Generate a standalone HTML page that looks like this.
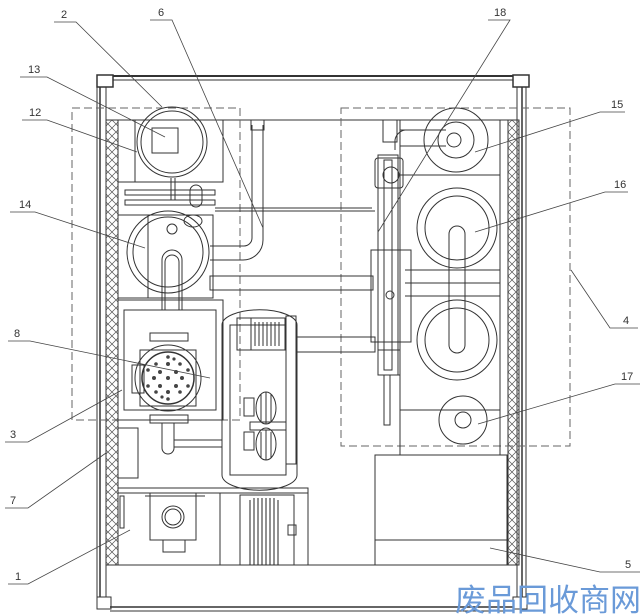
<!DOCTYPE html>
<html><head><meta charset="utf-8"><style>
html,body{margin:0;padding:0;background:#fff;width:640px;height:614px;overflow:hidden}
svg{display:block}
text{font-family:"Liberation Sans",sans-serif;font-size:11px;fill:#333}
</style></head><body>
<svg width="640" height="614" viewBox="0 0 640 614" xmlns="http://www.w3.org/2000/svg">
<defs>
<pattern id="hx" width="8" height="8" patternUnits="userSpaceOnUse">
<path d="M0,0 L8,8 M8,0 L0,8" stroke="#555" stroke-width="0.7"/>
</pattern>
</defs>
<g fill="none" stroke="#333" stroke-width="1">
<!-- frame -->
<line x1="100" y1="76" x2="520" y2="76" stroke-width="2"/>
<line x1="110" y1="80" x2="515" y2="80"/>
<line x1="97" y1="82" x2="97" y2="600"/>
<line x1="100" y1="82" x2="100" y2="600" stroke-width="1.5"/>
<line x1="106" y1="86" x2="106" y2="600"/>
<line x1="517" y1="86" x2="517" y2="600"/>
<line x1="522" y1="82" x2="522" y2="600" stroke-width="1.5"/>
<line x1="526" y1="82" x2="526" y2="600"/>
<rect x="97" y="75" width="16" height="12" fill="#fff" stroke-width="1.5"/>
<rect x="513" y="75" width="16" height="12" fill="#fff" stroke-width="1.5"/>
<rect x="97" y="597" width="14" height="12" fill="#fff"/>
<rect x="513" y="597" width="14" height="12" fill="#fff"/>
<line x1="110" y1="607" x2="514" y2="607" stroke-width="1.5"/>
<line x1="110" y1="611" x2="514" y2="611"/>
<line x1="106" y1="565" x2="517" y2="565"/>
<line x1="118" y1="120" x2="508" y2="120"/>
<!-- insulation -->
<rect x="106" y="120" width="12" height="445" fill="url(#hx)"/>
<rect x="508" y="120" width="11" height="445" fill="url(#hx)"/>
<!-- dashed boxes -->
<rect x="72" y="108" width="168" height="312" stroke-dasharray="8,4" stroke="#666"/>
<rect x="341" y="108" width="229" height="338" stroke-dasharray="8,4" stroke="#666"/>
<!-- left column structure -->
<rect x="118" y="120" width="105" height="62"/>
<rect x="118" y="120" width="17" height="62"/>
<line x1="125" y1="182" x2="215" y2="182"/>
<rect x="125" y="190" width="90" height="5"/>
<rect x="125" y="200" width="90" height="5"/>
<rect x="118" y="215" width="95" height="83"/>
<rect x="118" y="215" width="30" height="83"/>
<circle cx="172" cy="142" r="35"/>
<circle cx="172" cy="142" r="31"/>
<rect x="152" y="128" width="26" height="25"/>
<rect x="190" y="185" width="12" height="22" rx="6"/>
<line x1="171" y1="178" x2="171" y2="200"/>
<line x1="175" y1="178" x2="175" y2="200"/>
<circle cx="168" cy="252" r="41"/>
<circle cx="168" cy="252" r="35"/>
<circle cx="172" cy="229" r="5"/>
<ellipse cx="193" cy="221" rx="9" ry="6"/>
<path d="M162,310 L162,260 A10,10 0 0 1 182,260 L182,310"/>
<path d="M165,310 L165,262 A7,7 0 0 1 179,262 L179,310"/>
<!-- pipe 6 -->
<path d="M252,125 L252,238 A8,8 0 0 1 244,246 L210,246"/>
<path d="M263,125 L263,240 A20,20 0 0 1 243,260 L210,260"/>
<rect x="251" y="120" width="13" height="10"/>
<line x1="215" y1="208" x2="372" y2="208"/>
<line x1="215" y1="211" x2="375" y2="211"/>
<rect x="210" y="276" width="163" height="14"/>
<!-- pump 8 block -->
<rect x="124" y="310" width="92" height="100"/>
<rect x="118" y="300" width="105" height="120"/>
<rect x="150" y="333" width="38" height="8"/>
<rect x="150" y="415" width="38" height="8"/>
<rect x="140" y="350" width="56" height="56"/>
<rect x="132" y="365" width="12" height="28"/>
<circle cx="168" cy="378" r="33"/>
<circle cx="168" cy="378" r="26" stroke-width="1.5"/>
<g fill="#444" stroke="none">
<circle cx="168" cy="378" r="2"/><circle cx="160" cy="372" r="2"/><circle cx="176" cy="372" r="2"/><circle cx="160" cy="386" r="2"/><circle cx="176" cy="386" r="2"/><circle cx="168" cy="364" r="2"/><circle cx="168" cy="392" r="2"/><circle cx="154" cy="378" r="2"/><circle cx="182" cy="378" r="2"/><circle cx="156" cy="364" r="1.8"/><circle cx="180" cy="364" r="1.8"/><circle cx="156" cy="392" r="1.8"/><circle cx="180" cy="392" r="1.8"/><circle cx="148" cy="370" r="1.8"/><circle cx="188" cy="370" r="1.8"/><circle cx="148" cy="386" r="1.8"/><circle cx="188" cy="386" r="1.8"/><circle cx="168" cy="357" r="1.8"/><circle cx="168" cy="399" r="1.8"/><circle cx="162" cy="397" r="1.6"/><circle cx="174" cy="359" r="1.6"/>
</g>
<path d="M162,423 L162,448 A6,6 0 0 0 174,448 L174,423"/>
<line x1="174" y1="440" x2="222" y2="440"/>
<line x1="174" y1="447" x2="222" y2="447"/>
<rect x="118" y="428" width="20" height="50"/>
<!-- vessel -->
<path d="M222,325 A37,15 0 0 1 297,325 L297,475 A37,15 0 0 1 222,475 Z"/>
<rect x="230" y="325" width="56" height="150"/>
<rect x="237" y="318" width="48" height="32"/>
<rect x="251" y="318" width="34" height="32"/>
<g stroke="#333"><line x1="255" y1="322" x2="255" y2="346"/><line x1="259" y1="322" x2="259" y2="346"/><line x1="263" y1="322" x2="263" y2="346"/><line x1="267" y1="322" x2="267" y2="346"/><line x1="271" y1="322" x2="271" y2="346"/><line x1="275" y1="322" x2="275" y2="346"/><line x1="279" y1="322" x2="279" y2="346"/></g>
<rect x="286" y="316" width="10" height="148"/>
<rect x="244" y="398" width="10" height="18"/>
<ellipse cx="266" cy="408" rx="10" ry="16"/>
<line x1="261" y1="394" x2="261" y2="422"/><line x1="266" y1="392" x2="266" y2="424"/><line x1="271" y1="394" x2="271" y2="422"/>
<rect x="250" y="422" width="36" height="8"/>
<rect x="244" y="432" width="10" height="18"/>
<ellipse cx="266" cy="444" rx="10" ry="16"/>
<line x1="261" y1="432" x2="261" y2="458"/><line x1="266" y1="430" x2="266" y2="460"/><line x1="271" y1="432" x2="271" y2="458"/>
<rect x="297" y="337" width="78" height="15"/>
<!-- bottom left -->
<rect x="118" y="488" width="190" height="77"/>
<line x1="118" y1="493" x2="308" y2="493"/>
<rect x="120" y="496" width="4" height="32"/>
<rect x="150" y="493" width="46" height="47"/>
<circle cx="173" cy="517" r="11"/>
<circle cx="173" cy="517" r="8"/>
<rect x="163" y="540" width="22" height="12"/>
<line x1="145" y1="496" x2="205" y2="496"/>
<line x1="220" y1="493" x2="220" y2="565"/>
<rect x="240" y="495" width="54" height="70"/>
<g stroke="#222"><line x1="250" y1="500" x2="250" y2="565"/><line x1="254" y1="498" x2="254" y2="565"/><line x1="258" y1="498" x2="258" y2="565"/><line x1="262" y1="498" x2="262" y2="565"/><line x1="266" y1="498" x2="266" y2="565"/><line x1="270" y1="498" x2="270" y2="565"/><line x1="274" y1="498" x2="274" y2="565"/><line x1="278" y1="500" x2="278" y2="565"/></g>
<rect x="288" y="525" width="8" height="10"/>
<!-- right side -->
<rect x="400" y="120" width="100" height="335"/>
<line x1="400" y1="175" x2="500" y2="175"/>
<line x1="400" y1="410" x2="500" y2="410"/>
<circle cx="456" cy="140" r="32"/>
<circle cx="456" cy="140" r="18"/>
<circle cx="454" cy="140" r="7"/>
<path d="M400,130 L446,130 M400,146 L446,146 M395,150 L395,140 A12,12 0 0 1 405,130"/>
<circle cx="457" cy="228" r="40"/>
<circle cx="457" cy="228" r="32"/>
<path d="M449,300 L449,234 A8,8 0 0 1 465,234 L465,300"/>
<circle cx="457" cy="340" r="40"/>
<circle cx="457" cy="340" r="32"/>
<path d="M449,300 L449,345 A8,8 0 0 0 465,345 L465,300"/>
<line x1="405" y1="270" x2="500" y2="270"/><line x1="405" y1="283" x2="500" y2="283"/><line x1="405" y1="296" x2="500" y2="296"/>
<circle cx="463" cy="420" r="24"/>
<circle cx="463" cy="420" r="8"/>
<!-- 18 unit -->
<rect x="378" y="155" width="20" height="220"/>
<rect x="384" y="160" width="8" height="210"/>
<rect x="375" y="158" width="28" height="30" rx="3"/>
<circle cx="391" cy="175" r="8"/>
<rect x="383" y="120" width="14" height="22"/>
<rect x="371" y="250" width="40" height="92"/>
<circle cx="390" cy="295" r="4"/>
<rect x="378" y="350" width="22" height="25"/>
<rect x="384" y="375" width="6" height="50"/>
<!-- box 5 -->
<rect x="375" y="455" width="132" height="110"/>
<line x1="375" y1="540" x2="507" y2="540"/>
<!-- leaders -->
<g stroke="#444" stroke-width="0.8">
<path d="M54,22 L76,22 L162,107"/>
<path d="M150,20 L172,20 L263,228"/>
<path d="M20,77 L47,77 L165,137"/>
<path d="M22,120 L47,120 L137,152"/>
<path d="M10,212 L35,212 L145,248"/>
<path d="M8,341 L30,341 L210,378"/>
<path d="M5,442 L28,442 L122,390"/>
<path d="M5,508 L28,508 L106,453"/>
<path d="M8,584 L28,584 L130,530"/>
<path d="M488,20 L510,20 L378,232"/>
<path d="M625,112 L600,112 L475,152"/>
<path d="M628,192 L605,192 L475,232"/>
<path d="M638,328 L610,328 L571,270"/>
<path d="M640,384 L615,384 L478,424"/>
<path d="M640,572 L600,572 L490,548"/>
</g>
</g>
<text x="61" y="18">2</text>
<text x="158" y="16">6</text>
<text x="28" y="73">13</text>
<text x="29" y="116">12</text>
<text x="19" y="208">14</text>
<text x="14" y="337">8</text>
<text x="10" y="438">3</text>
<text x="10" y="504">7</text>
<text x="15" y="580">1</text>
<text x="494" y="16">18</text>
<text x="611" y="108">15</text>
<text x="614" y="188">16</text>
<text x="623" y="324">4</text>
<text x="621" y="380">17</text>
<text x="625" y="568">5</text>
<text x="455" y="611" style="font-family:'Liberation Sans','Noto Sans CJK SC',sans-serif;font-size:31px;fill:#6a9ad8">废品回收商网</text>
</svg>
</body></html>
